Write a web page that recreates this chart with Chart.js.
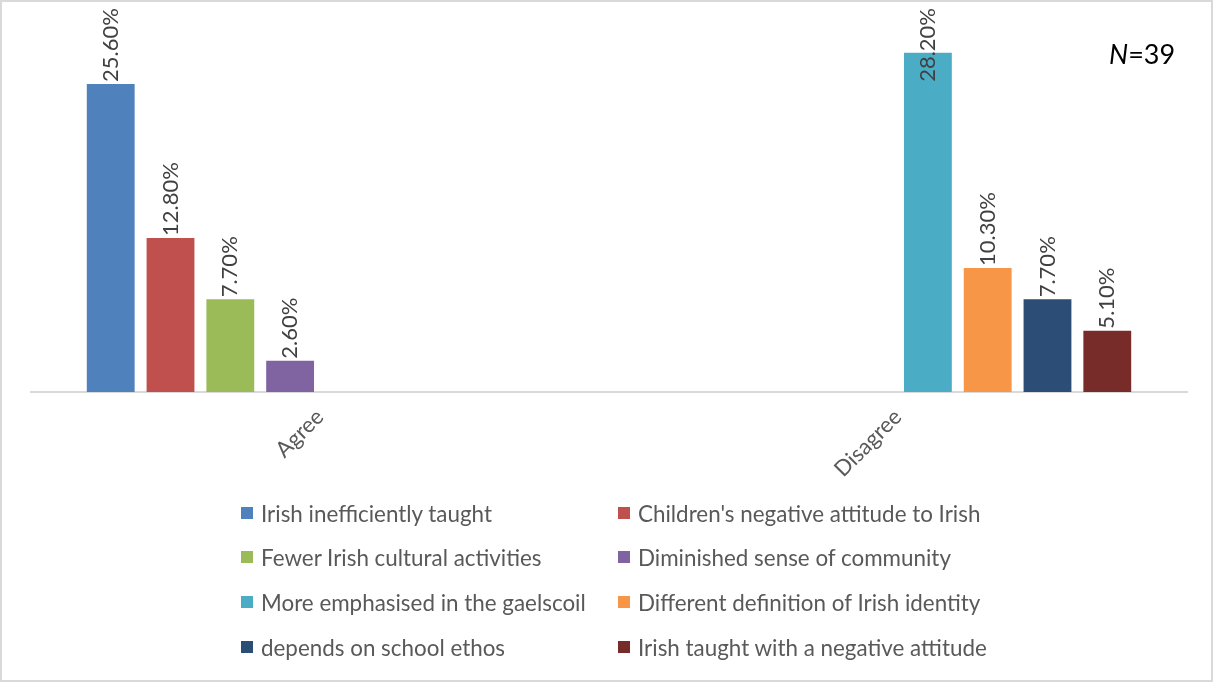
<!DOCTYPE html>
<html>
<head>
<meta charset="utf-8">
<script src="https://cdn.jsdelivr.net/npm/chart.js@4"></script>
<style>
  html, body { margin: 0; padding: 0; background: #fff; }
  #wrap { position: relative; width: 1213px; height: 682px; font-family: Lato, sans-serif; }
  #chart { position: absolute; left: 0; top: 0; }
  #frame { position: absolute; inset: 0; border: 2px solid #d9d9d9; pointer-events: none; }
  #nlabel { position: absolute; left: 1109px; top: 37px; font-size: 27px; color: #000; }
  #legend { position: absolute; left: 0; top: 0; width: 100%; height: 100%; pointer-events: none; }
  .item { position: absolute; display: flex; align-items: center; font-size: 22.4px; color: #595959; white-space: nowrap; }
  .box { width: 12px; height: 12px; margin-right: 8px; }
</style>
</head>
<body>
<div id="wrap">
  <canvas id="chart" width="1213" height="682"></canvas>
  <div id="nlabel"><i>N</i>=39</div>
  <div id="legend"></div>
  <div id="frame"></div>
</div>
<script>
const categories = ["Agree", "Disagree"];

const seriesNames = [
  "Irish inefficiently taught",
  "Children's negative attitude to Irish",
  "Fewer Irish cultural activities",
  "Diminished sense of community",
  "More emphasised in the gaelscoil",
  "Different definition of Irish identity",
  "depends on school ethos",
  "Irish taught with a negative attitude",
];

// percent values, one per category (null where the series has no bar)
const agreeValues = [25.6, 12.8, 7.7, 2.6, null, null, null, null];
const disagreeValues = [null, null, null, null, 28.2, 10.3, 7.7, 5.1];

const seriesColors = [
  "#4f81bd", "#c0504d", "#9bbb59", "#8064a2",
  "#4bacc6", "#f79646", "#2c4d75", "#772c2a",
];

const barLabels = {
  id: "barLabels",
  afterDatasetsDraw(chart) {
    const ctx = chart.ctx;
    ctx.save();
    ctx.font = "22px Lato";
    ctx.fillStyle = "#404040";
    ctx.textAlign = "left";
    ctx.textBaseline = "middle";
    chart.data.datasets.forEach((ds, i) => {
      const meta = chart.getDatasetMeta(i);
      meta.data.forEach((bar, j) => {
        const v = ds.data[j];
        if (v == null) return;
        const text = v.toFixed(2) + "%";
        const w = ctx.measureText(text).width;
        // keep the label inside the top of the canvas
        const y0 = Math.max(bar.y - 2, 8 + w);
        ctx.save();
        ctx.translate(bar.x, y0);
        ctx.rotate(-Math.PI / 2);
        ctx.fillText(text, 0, 0);
        ctx.restore();
      });
    });
    ctx.restore();
  },
};

const chart = new Chart(document.getElementById("chart").getContext("2d"), {
  type: "bar",
  data: {
    labels: categories,
    datasets: seriesNames.map((name, i) => ({
      label: name,
      data: [agreeValues[i], disagreeValues[i]],
      backgroundColor: seriesColors[i],
      categoryPercentage: 0.8276,
      barPercentage: 0.8,
    })),
  },
  options: {
    responsive: false,
    animation: false,
    layout: {
      padding: { top: 31, right: 26, bottom: 190, left: 31 },
    },
    plugins: {
      legend: { display: false },
      tooltip: { enabled: false },
    },
    scales: {
      y: {
        display: false,
        min: 0,
        max: 30,
      },
      x: {
        grid: { display: false },
        border: { display: true, color: "#d9d9d9", width: 2 },
        ticks: {
          color: "#595959",
          font: { family: "Lato", size: 22 },
          maxRotation: 45,
          minRotation: 45,
          padding: 4,
        },
        afterFit: (scale) => {
          scale.height = 100;
        },
      },
    },
  },
  plugins: [barLabels],
});

// two-column legend below the plot
const legendEl = document.getElementById("legend");
const colX = [241, 618];
const rowY = [513, 557, 602, 647];
chart.data.datasets.forEach((ds, i) => {
  const item = document.createElement("div");
  item.className = "item";
  item.style.left = colX[i % 2] + "px";
  item.style.top = rowY[Math.floor(i / 2)] - 15 + "px";
  item.style.height = "30px";
  item.innerHTML = `<span class="box" style="background:${ds.backgroundColor}"></span>${ds.label}`;
  legendEl.appendChild(item);
});
</script>
</body>
</html>
